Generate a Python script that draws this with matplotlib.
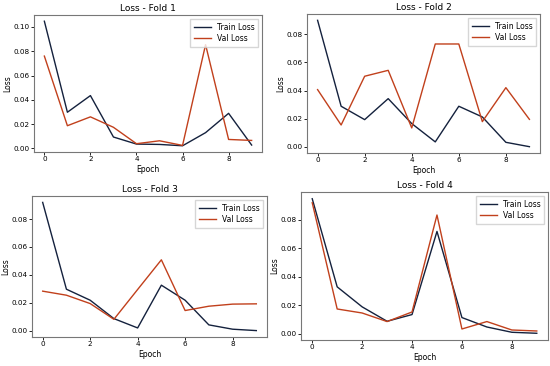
import matplotlib
matplotlib.use('Agg')
import matplotlib.pyplot as plt
from matplotlib.ticker import FormatStrFormatter
import numpy as np

epochs = np.arange(10)

train_f1 = [0.1047, 0.0298, 0.0435, 0.0094, 0.0036, 0.0033, 0.0022, 0.0130, 0.0289, 0.0028]
val_f1 = [0.0760, 0.0187, 0.0260, 0.0174, 0.0039, 0.0063, 0.0025, 0.0854, 0.0074, 0.0066]

train_f2 = [0.0899, 0.0289, 0.0194, 0.0343, 0.0166, 0.0036, 0.0289, 0.0213, 0.0033, 0.0002]
val_f2 = [0.0407, 0.0156, 0.0502, 0.0544, 0.0135, 0.0731, 0.0731, 0.0180, 0.0421, 0.0196]

train_f3 = [0.0920, 0.0297, 0.0218, 0.0086, 0.0019, 0.0326, 0.0218, 0.0041, 0.0010, 0.0000]
val_f3 = [0.0283, 0.0254, 0.0194, 0.0081, 0.0295, 0.0508, 0.0144, 0.0175, 0.0190, 0.0192]

train_f4 = [0.0947, 0.0330, 0.0190, 0.0089, 0.0136, 0.0718, 0.0115, 0.0049, 0.0012, 0.0005]
val_f4 = [0.0919, 0.0175, 0.0147, 0.0087, 0.0154, 0.0833, 0.0035, 0.0087, 0.0028, 0.0021]

folds = [
    ('Loss - Fold 1', train_f1, val_f1),
    ('Loss - Fold 2', train_f2, val_f2),
    ('Loss - Fold 3', train_f3, val_f3),
    ('Loss - Fold 4', train_f4, val_f4),
]

# axes boxes in pixels: left, top, right, bottom
boxes = [
    (34, 15, 262, 152),
    (307, 14, 540, 153),
    (32, 196, 267, 337),
    (301, 192, 548, 340),
]

W, H = 550, 366
TRAIN = '#14213d'
VAL = '#c1401c'


def main():
    fig = plt.figure(figsize=(W / 100, H / 100), dpi=100)
    for (title, tr, va), (l, t, r, b) in zip(folds, boxes):
        ax = fig.add_axes([l / W, 1 - b / H, (r - l) / W, (b - t) / H])
        ax.plot(epochs, tr, color=TRAIN, lw=1.0, label='Train Loss')
        ax.plot(epochs, va, color=VAL, lw=1.0, label='Val Loss')
        ax.set_title(title, fontsize=6.5, pad=3)
        ax.set_xlabel('Epoch', fontsize=5.5, labelpad=1.5)
        ax.set_ylabel('Loss', fontsize=5.5, labelpad=1)
        ax.set_xticks([0, 2, 4, 6, 8])
        ax.yaxis.set_major_formatter(FormatStrFormatter('%.2f'))
        ax.tick_params(labelsize=5.2, length=2, width=0.6, pad=1.2)
        for s in ax.spines.values():
            s.set_color('#777777')
            s.set_linewidth(0.8)
        ax.legend(fontsize=5.5, loc='upper right', frameon=True, fancybox=False,
                  edgecolor='#cccccc', handlelength=2.2, borderpad=0.5,
                  labelspacing=0.3)
    fig.savefig('out.png', dpi=100)


if __name__ == '__main__':
    main()
